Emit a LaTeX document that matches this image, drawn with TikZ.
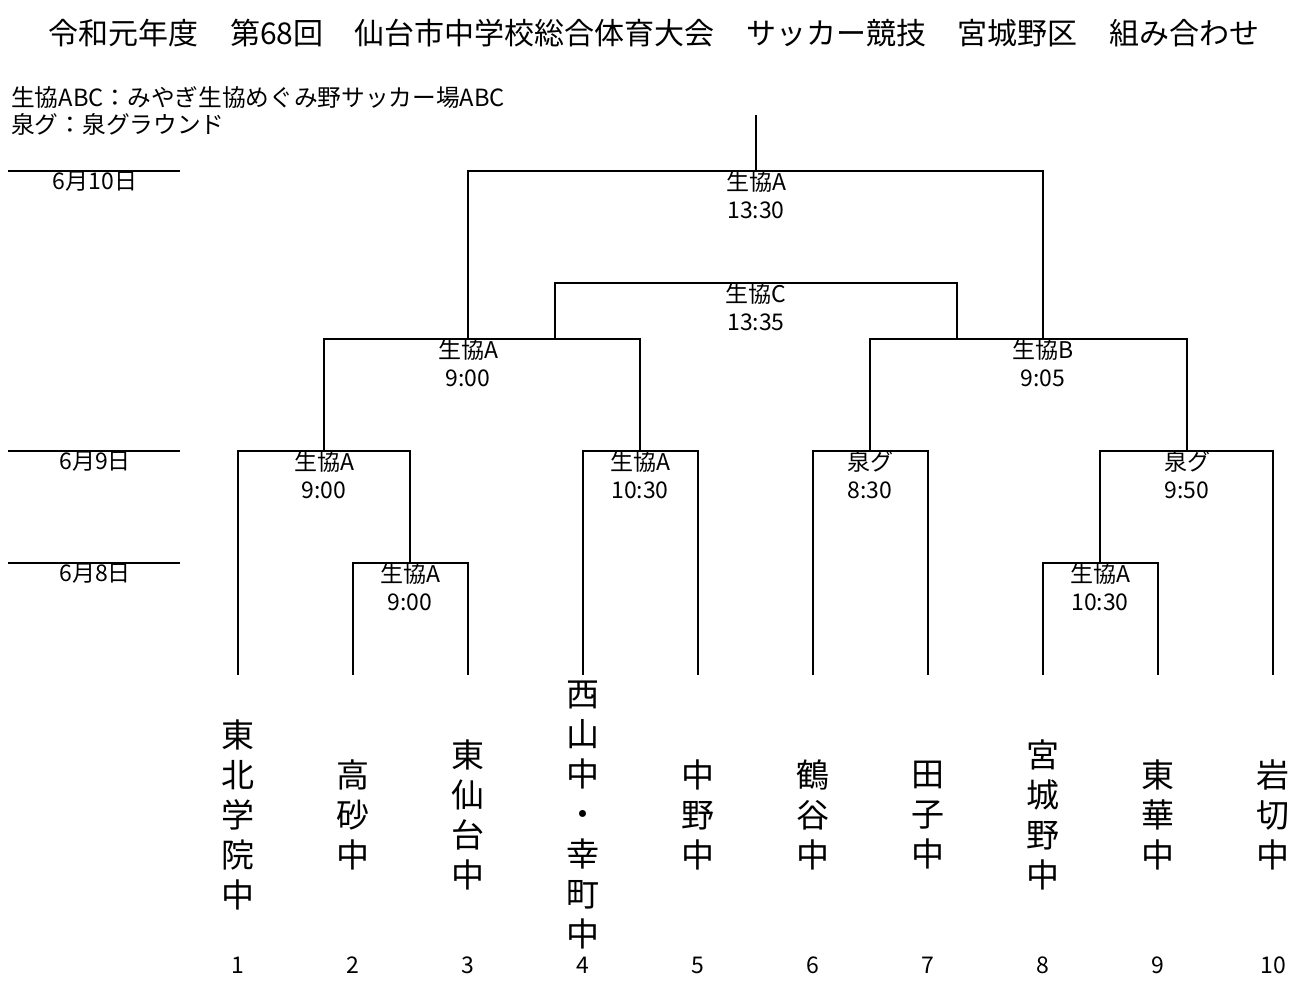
\documentclass[tikz,border=0pt]{standalone}
\usepackage{fontspec}
\setmainfont{Noto Sans CJK JP}
\usetikzlibrary{calc}
\tikzset{
  bracket/.style={line width=1.8pt, line join=miter},
  lbl/.style={font=\fontsize{23}{23}\selectfont, inner sep=0pt, text height=0.76em, text depth=0pt},
  datelbl/.style={font=\fontsize{23}{23}\selectfont, inner sep=0pt, text height=0.76em, text depth=0pt},
  team/.style={font=\fontsize{33}{40}\selectfont, align=center, inner sep=0pt},
  num/.style={font=\fontsize{23}{23}\selectfont, inner sep=0pt, text height=0.76em, text depth=0pt},
  legend/.style={font=\fontsize{23.7}{23.7}\selectfont, anchor=west, inner sep=0pt, text height=0.76em, text depth=0pt},
}
\newcommand\mlab[3]{%
  \node[lbl] (#1v) at ($(#1)+(0,15.5)$) {#2};
  \node[lbl] (#1t) at ($(#1)+(0,43.5)$) {#3};}
\begin{document}
\begin{tikzpicture}[x=1pt,y=-1pt]
\useasboundingbox (0,0) rectangle (1305,991);
\fill[white] (0,0) rectangle (1305,991);

% title and legend
\node[font=\fontsize{30}{30}\selectfont, inner sep=0pt] (title) at (654,33)
  {令和元年度\hspace{1.05em}第68回\hspace{1.05em}仙台市中学校総合体育大会\hspace{1.05em}サッカー競技\hspace{1.05em}宮城野区\hspace{1.05em}組み合わせ};
\node[legend] (leg1) at (11,103) {生協ABC：みやぎ生協めぐみ野サッカー場ABC};
\node[legend] (leg2) at (11,130) {泉グ：泉グラウンド};

% date rows
\coordinate (d10a) at (8,171);  \coordinate (d10b) at (180,171);
\coordinate (d9a) at (8,451);   \coordinate (d9b) at (180,451);
\coordinate (d8a) at (8,563);   \coordinate (d8b) at (180,563);
\draw[bracket] (d10a) -- (d10b);
\draw[bracket] (d9a) -- (d9b);
\draw[bracket] (d8a) -- (d8b);
\node[datelbl] (dl10) at (95,186) {6月10日};
\node[datelbl] (dl9) at (95,466) {6月9日};
\node[datelbl] (dl8) at (95,578) {6月8日};

% team line ends
\foreach \i/\x in {1/238,2/353,3/468,4/583,5/698,6/813,7/928,8/1043,9/1158,10/1273}{
  \coordinate (t\i) at (\x,675);
}
% match points
\coordinate (m23) at (410,563);
\coordinate (m1) at (324,451);
\coordinate (m45) at (640,451);
\coordinate (m67) at (870,451);
\coordinate (m89) at (1100,563);
\coordinate (m810) at (1187,451);
\coordinate (s1) at (468,339);
\coordinate (s2) at (1043,339);
\coordinate (l3a) at (555,339);
\coordinate (l3b) at (957,339);
\coordinate (third) at (756,283);
\coordinate (fin) at (756,171);
\coordinate (top) at (756,115);

\draw[bracket] (t2) |- (m23) -| (t3);
\draw[bracket] (t1) |- (m1) -| (m23);
\draw[bracket] (t4) |- (m45) -| (t5);
\draw[bracket] (t6) |- (m67) -| (t7);
\draw[bracket] (t8) |- (m89) -| (t9);
\draw[bracket] (m89) |- (m810) -| (t10);
\draw[bracket] (m1) |- (s1) -| (m45);
\draw[bracket] (m67) |- (s2) -| (m810);
\draw[bracket] (l3a) |- (third) -| (l3b);
\draw[bracket] (s1) |- (fin) -| (s2);
\draw[bracket] (fin) -- (top);

% match labels
\mlab{m23}{生協A}{9:00}
\mlab{m1}{生協A}{9:00}
\mlab{m45}{生協A}{10:30}
\mlab{m67}{泉グ}{8:30}
\mlab{m89}{生協A}{10:30}
\mlab{m810}{泉グ}{9:50}
\mlab{s1}{生協A}{9:00}
\mlab{s2}{生協B}{9:05}
\mlab{third}{生協C}{13:35}
\mlab{fin}{生協A}{13:30}

% team names
\node[team] (n1) at (238,815) {東\\北\\学\\院\\中};
\node[team] (n2) at (353,815) {高\\砂\\中};
\node[team] (n3) at (468,815) {東\\仙\\台\\中};
\node[team] (n4) at (583,815) {西\\山\\中\\・\\幸\\町\\中};
\node[team] (n5) at (698,815) {中\\野\\中};
\node[team] (n6) at (813,815) {鶴\\谷\\中};
\node[team] (n7) at (928,815) {田\\子\\中};
\node[team] (n8) at (1043,815) {宮\\城\\野\\中};
\node[team] (n9) at (1158,815) {東\\華\\中};
\node[team] (n10) at (1273,815) {岩\\切\\中};

% numbers
\foreach \i/\x in {1/238,2/353,3/468,4/583,5/698,6/813,7/928,8/1043,9/1158,10/1273}{
  \node[num] (k\i) at (\x,970) {\i};
}
\end{tikzpicture}
\end{document}
